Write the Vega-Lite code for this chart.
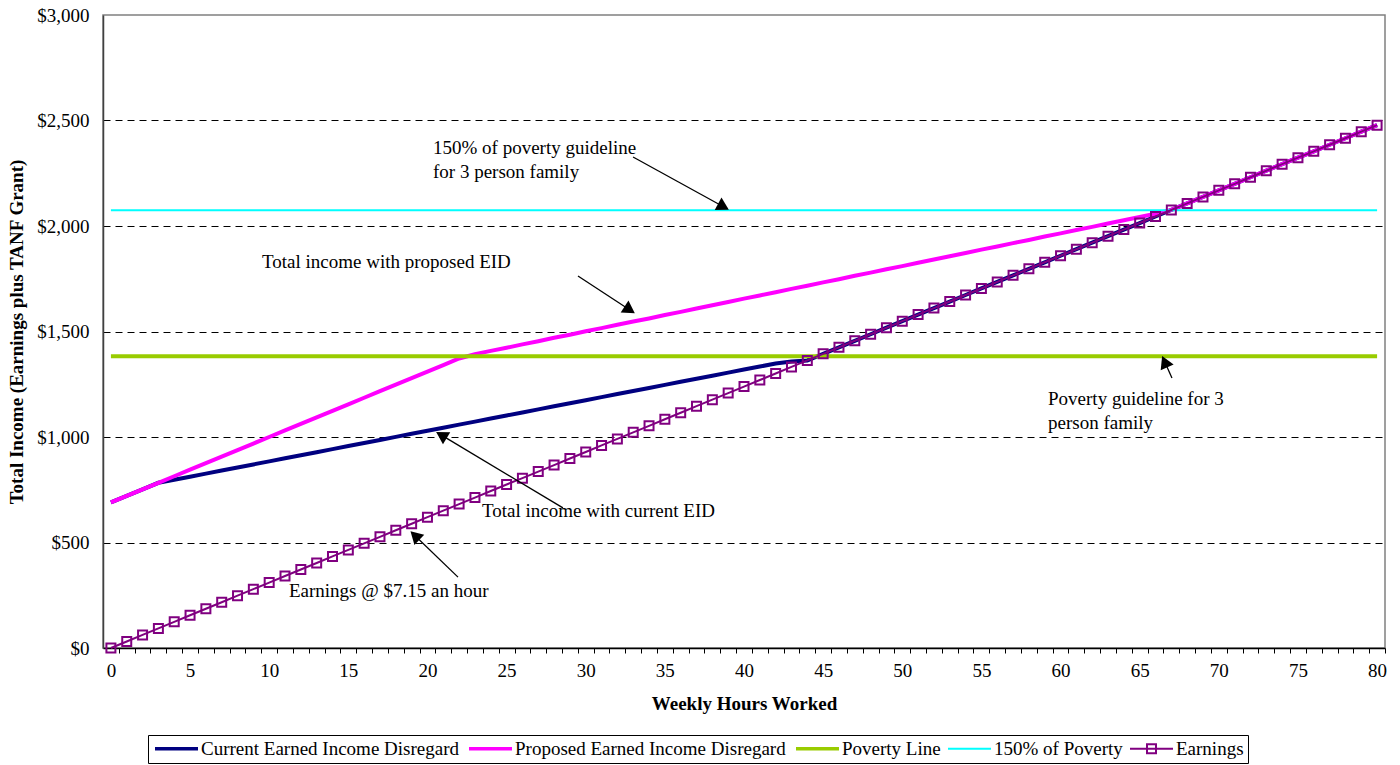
{
  "$schema": "https://vega.github.io/schema/vega-lite/v6.json",
  "width": 1282,
  "height": 633,
  "autosize": "none",
  "padding": {"left": 103, "top": 15, "right": 15, "bottom": 117},
  "background": "white",
  "config": {
    "font": "Liberation Serif",
    "view": {"stroke": "#808080", "strokeWidth": 1.5},
    "text": {"font": "Liberation Serif"}
  },
  "datasets": {
    "lines": [
      {"series":"Current","hours":0,"income":690},{"series":"Current","hours":1,"income":721},{"series":"Current","hours":2,"income":752},{"series":"Current","hours":3,"income":783},{"series":"Current","hours":4,"income":797.5},{"series":"Current","hours":5,"income":812},{"series":"Current","hours":6,"income":826.5},{"series":"Current","hours":7,"income":841},{"series":"Current","hours":8,"income":855.5},{"series":"Current","hours":9,"income":870},{"series":"Current","hours":10,"income":884.5},{"series":"Current","hours":11,"income":899},{"series":"Current","hours":12,"income":913.5},{"series":"Current","hours":13,"income":928},{"series":"Current","hours":14,"income":942.5},{"series":"Current","hours":15,"income":957},{"series":"Current","hours":16,"income":971.5},{"series":"Current","hours":17,"income":986},{"series":"Current","hours":18,"income":1000.5},{"series":"Current","hours":19,"income":1015},{"series":"Current","hours":20,"income":1029.5},{"series":"Current","hours":21,"income":1044},{"series":"Current","hours":22,"income":1058.5},{"series":"Current","hours":23,"income":1073},{"series":"Current","hours":24,"income":1087.5},{"series":"Current","hours":25,"income":1102},{"series":"Current","hours":26,"income":1116.5},{"series":"Current","hours":27,"income":1131},{"series":"Current","hours":28,"income":1145.5},{"series":"Current","hours":29,"income":1160},{"series":"Current","hours":30,"income":1174.5},{"series":"Current","hours":31,"income":1189},{"series":"Current","hours":32,"income":1203.5},{"series":"Current","hours":33,"income":1218},{"series":"Current","hours":34,"income":1232.5},{"series":"Current","hours":35,"income":1247},{"series":"Current","hours":36,"income":1261.5},{"series":"Current","hours":37,"income":1276},{"series":"Current","hours":38,"income":1290.5},{"series":"Current","hours":39,"income":1305},{"series":"Current","hours":40,"income":1319.5},{"series":"Current","hours":41,"income":1334},{"series":"Current","hours":42,"income":1348.5},{"series":"Current","hours":43,"income":1358},{"series":"Current","hours":44,"income":1363},{"series":"Current","hours":45,"income":1394},{"series":"Current","hours":46,"income":1425},{"series":"Current","hours":47,"income":1456},{"series":"Current","hours":48,"income":1487},{"series":"Current","hours":49,"income":1518},{"series":"Current","hours":50,"income":1549},{"series":"Current","hours":51,"income":1580},{"series":"Current","hours":52,"income":1611},{"series":"Current","hours":53,"income":1642},{"series":"Current","hours":54,"income":1673},{"series":"Current","hours":55,"income":1704},{"series":"Current","hours":56,"income":1735},{"series":"Current","hours":57,"income":1766},{"series":"Current","hours":58,"income":1797},{"series":"Current","hours":59,"income":1828},{"series":"Current","hours":60,"income":1859},{"series":"Current","hours":61,"income":1890},{"series":"Current","hours":62,"income":1921},{"series":"Current","hours":63,"income":1952},{"series":"Current","hours":64,"income":1983},{"series":"Current","hours":65,"income":2014},{"series":"Current","hours":66,"income":2045},{"series":"Current","hours":67,"income":2076},{"series":"Current","hours":68,"income":2107},{"series":"Current","hours":69,"income":2138},{"series":"Current","hours":70,"income":2169},{"series":"Current","hours":71,"income":2200},{"series":"Current","hours":72,"income":2231},{"series":"Current","hours":73,"income":2262},{"series":"Current","hours":74,"income":2293},{"series":"Current","hours":75,"income":2324},{"series":"Current","hours":76,"income":2354},{"series":"Current","hours":77,"income":2385},{"series":"Current","hours":78,"income":2416},{"series":"Current","hours":79,"income":2447},{"series":"Current","hours":80,"income":2478},
      {"series":"Proposed","hours":0,"income":690},{"series":"Proposed","hours":1,"income":721},{"series":"Proposed","hours":2,"income":752},{"series":"Proposed","hours":3,"income":783},{"series":"Proposed","hours":4,"income":814},{"series":"Proposed","hours":5,"income":845},{"series":"Proposed","hours":6,"income":876},{"series":"Proposed","hours":7,"income":907},{"series":"Proposed","hours":8,"income":938},{"series":"Proposed","hours":9,"income":969},{"series":"Proposed","hours":10,"income":1000},{"series":"Proposed","hours":11,"income":1031},{"series":"Proposed","hours":12,"income":1062},{"series":"Proposed","hours":13,"income":1093},{"series":"Proposed","hours":14,"income":1124},{"series":"Proposed","hours":15,"income":1155},{"series":"Proposed","hours":16,"income":1186},{"series":"Proposed","hours":17,"income":1217},{"series":"Proposed","hours":18,"income":1248},{"series":"Proposed","hours":19,"income":1279},{"series":"Proposed","hours":20,"income":1310},{"series":"Proposed","hours":21,"income":1341},{"series":"Proposed","hours":22,"income":1372},{"series":"Proposed","hours":23,"income":1392},{"series":"Proposed","hours":24,"income":1408},{"series":"Proposed","hours":25,"income":1423},{"series":"Proposed","hours":26,"income":1439},{"series":"Proposed","hours":27,"income":1454},{"series":"Proposed","hours":28,"income":1470},{"series":"Proposed","hours":29,"income":1485},{"series":"Proposed","hours":30,"income":1501},{"series":"Proposed","hours":31,"income":1516},{"series":"Proposed","hours":32,"income":1532},{"series":"Proposed","hours":33,"income":1547},{"series":"Proposed","hours":34,"income":1562},{"series":"Proposed","hours":35,"income":1578},{"series":"Proposed","hours":36,"income":1593},{"series":"Proposed","hours":37,"income":1609},{"series":"Proposed","hours":38,"income":1624},{"series":"Proposed","hours":39,"income":1640},{"series":"Proposed","hours":40,"income":1656},{"series":"Proposed","hours":41,"income":1671},{"series":"Proposed","hours":42,"income":1686},{"series":"Proposed","hours":43,"income":1702},{"series":"Proposed","hours":44,"income":1717},{"series":"Proposed","hours":45,"income":1733},{"series":"Proposed","hours":46,"income":1748},{"series":"Proposed","hours":47,"income":1764},{"series":"Proposed","hours":48,"income":1779},{"series":"Proposed","hours":49,"income":1795},{"series":"Proposed","hours":50,"income":1810},{"series":"Proposed","hours":51,"income":1826},{"series":"Proposed","hours":52,"income":1841},{"series":"Proposed","hours":53,"income":1857},{"series":"Proposed","hours":54,"income":1872},{"series":"Proposed","hours":55,"income":1888},{"series":"Proposed","hours":56,"income":1903},{"series":"Proposed","hours":57,"income":1919},{"series":"Proposed","hours":58,"income":1934},{"series":"Proposed","hours":59,"income":1950},{"series":"Proposed","hours":60,"income":1965},{"series":"Proposed","hours":61,"income":1981},{"series":"Proposed","hours":62,"income":1996},{"series":"Proposed","hours":63,"income":2012},{"series":"Proposed","hours":64,"income":2027},{"series":"Proposed","hours":65,"income":2043},{"series":"Proposed","hours":66,"income":2058},{"series":"Proposed","hours":67,"income":2076},{"series":"Proposed","hours":68,"income":2107},{"series":"Proposed","hours":69,"income":2138},{"series":"Proposed","hours":70,"income":2169},{"series":"Proposed","hours":71,"income":2200},{"series":"Proposed","hours":72,"income":2231},{"series":"Proposed","hours":73,"income":2262},{"series":"Proposed","hours":74,"income":2293},{"series":"Proposed","hours":75,"income":2324},{"series":"Proposed","hours":76,"income":2354},{"series":"Proposed","hours":77,"income":2385},{"series":"Proposed","hours":78,"income":2416},{"series":"Proposed","hours":79,"income":2447},{"series":"Proposed","hours":80,"income":2478},
      {"series":"Poverty","hours":0,"income":1383},{"series":"Poverty","hours":80,"income":1383},
      {"series":"Poverty150","hours":0,"income":2075},{"series":"Poverty150","hours":80,"income":2075},
      {"series":"Earnings","hours":0,"income":0},{"series":"Earnings","hours":1,"income":31},{"series":"Earnings","hours":2,"income":62},{"series":"Earnings","hours":3,"income":93},{"series":"Earnings","hours":4,"income":124},{"series":"Earnings","hours":5,"income":155},{"series":"Earnings","hours":6,"income":186},{"series":"Earnings","hours":7,"income":217},{"series":"Earnings","hours":8,"income":248},{"series":"Earnings","hours":9,"income":279},{"series":"Earnings","hours":10,"income":310},{"series":"Earnings","hours":11,"income":341},{"series":"Earnings","hours":12,"income":372},{"series":"Earnings","hours":13,"income":403},{"series":"Earnings","hours":14,"income":434},{"series":"Earnings","hours":15,"income":465},{"series":"Earnings","hours":16,"income":496},{"series":"Earnings","hours":17,"income":527},{"series":"Earnings","hours":18,"income":558},{"series":"Earnings","hours":19,"income":589},{"series":"Earnings","hours":20,"income":620},{"series":"Earnings","hours":21,"income":651},{"series":"Earnings","hours":22,"income":682},{"series":"Earnings","hours":23,"income":713},{"series":"Earnings","hours":24,"income":744},{"series":"Earnings","hours":25,"income":775},{"series":"Earnings","hours":26,"income":805},{"series":"Earnings","hours":27,"income":836},{"series":"Earnings","hours":28,"income":867},{"series":"Earnings","hours":29,"income":898},{"series":"Earnings","hours":30,"income":929},{"series":"Earnings","hours":31,"income":960},{"series":"Earnings","hours":32,"income":991},{"series":"Earnings","hours":33,"income":1022},{"series":"Earnings","hours":34,"income":1053},{"series":"Earnings","hours":35,"income":1084},{"series":"Earnings","hours":36,"income":1115},{"series":"Earnings","hours":37,"income":1146},{"series":"Earnings","hours":38,"income":1177},{"series":"Earnings","hours":39,"income":1208},{"series":"Earnings","hours":40,"income":1239},{"series":"Earnings","hours":41,"income":1270},{"series":"Earnings","hours":42,"income":1301},{"series":"Earnings","hours":43,"income":1332},{"series":"Earnings","hours":44,"income":1363},{"series":"Earnings","hours":45,"income":1394},{"series":"Earnings","hours":46,"income":1425},{"series":"Earnings","hours":47,"income":1456},{"series":"Earnings","hours":48,"income":1487},{"series":"Earnings","hours":49,"income":1518},{"series":"Earnings","hours":50,"income":1549},{"series":"Earnings","hours":51,"income":1580},{"series":"Earnings","hours":52,"income":1611},{"series":"Earnings","hours":53,"income":1642},{"series":"Earnings","hours":54,"income":1673},{"series":"Earnings","hours":55,"income":1704},{"series":"Earnings","hours":56,"income":1735},{"series":"Earnings","hours":57,"income":1766},{"series":"Earnings","hours":58,"income":1797},{"series":"Earnings","hours":59,"income":1828},{"series":"Earnings","hours":60,"income":1859},{"series":"Earnings","hours":61,"income":1890},{"series":"Earnings","hours":62,"income":1921},{"series":"Earnings","hours":63,"income":1952},{"series":"Earnings","hours":64,"income":1983},{"series":"Earnings","hours":65,"income":2014},{"series":"Earnings","hours":66,"income":2045},{"series":"Earnings","hours":67,"income":2076},{"series":"Earnings","hours":68,"income":2107},{"series":"Earnings","hours":69,"income":2138},{"series":"Earnings","hours":70,"income":2169},{"series":"Earnings","hours":71,"income":2200},{"series":"Earnings","hours":72,"income":2231},{"series":"Earnings","hours":73,"income":2262},{"series":"Earnings","hours":74,"income":2293},{"series":"Earnings","hours":75,"income":2324},{"series":"Earnings","hours":76,"income":2354},{"series":"Earnings","hours":77,"income":2385},{"series":"Earnings","hours":78,"income":2416},{"series":"Earnings","hours":79,"income":2447},{"series":"Earnings","hours":80,"income":2478}
    ],
    "notes": [
      {"text":"150% of poverty guideline","hours":20.35,"income":2370},
      {"text":"for 3 person family","hours":20.35,"income":2256},
      {"text":"Total income with proposed EID","hours":9.55,"income":1829},
      {"text":"Poverty guideline for 3","hours":59.21,"income":1180},
      {"text":"person family","hours":59.21,"income":1066},
      {"text":"Total income with current EID","hours":23.45,"income":649},
      {"text":"Earnings @ $7.15 an hour","hours":11.25,"income":270}
    ],
    "arrows": [
      {"id":1,"hours":32.99,"income":2327,"hours2":38.59,"income2":2096},
      {"id":2,"hours":29.51,"income":1763,"hours2":32.67,"income2":1608},
      {"id":3,"hours":67.04,"income":1280,"hours2":66.63,"income2":1348},
      {"id":4,"hours":28.56,"income":664,"hours2":20.99,"income2":1004},
      {"id":5,"hours":21.93,"income":336,"hours2":19.30,"income2":526}
    ]
  },
  "encoding": {
    "x": {
      "field": "hours", "type": "quantitative",
      "scale": {"domain": [-0.5, 80.5], "nice": false, "zero": false},
      "axis": {
        "title": "Weekly Hours Worked",
        "values": [0,1,2,3,4,5,6,7,8,9,10,11,12,13,14,15,16,17,18,19,20,21,22,23,24,25,26,27,28,29,30,31,32,33,34,35,36,37,38,39,40,41,42,43,44,45,46,47,48,49,50,51,52,53,54,55,56,57,58,59,60,61,62,63,64,65,66,67,68,69,70,71,72,73,74,75,76,77,78,79,80],
        "tickOffset": 7.91,
        "labelOffset": -7.91,
        "labelExpr": "datum.value % 5 === 0 ? datum.label : ''",
        "labelOverlap": false,
        "labelFlush": false,
        "labelBound": false,
        "grid": false,
        "tickSize": 5,
        "tickColor": "black",
        "domainColor": "black",
        "domainWidth": 1.5,
        "labelFontSize": 19,
        "labelColor": "black",
        "labelPadding": 8,
        "titleFontSize": 19,
        "titleFontWeight": "bold",
        "titleColor": "black",
        "titlePadding": 14
      }
    },
    "y": {
      "field": "income", "type": "quantitative",
      "scale": {"domain": [0, 3000], "nice": false},
      "axis": {
        "title": "Total Income (Earnings  plus TANF Grant)",
        "values": [0, 500, 1000, 1500, 2000, 2500, 3000],
        "format": "$,.0f",
        "ticks": false,
        "labelFontSize": 19,
        "labelColor": "black",
        "labelPadding": 14,
        "domainColor": "#404040",
        "domainWidth": 1.5,
        "gridDash": [7, 5],
        "gridColor": {"condition": {"test": "datum.value === 3000 || datum.value === 0", "value": "transparent"}, "value": "black"},
        "titleFontSize": 19,
        "titleFontWeight": "bold",
        "titleColor": "black",
        "titlePadding": 10
      }
    }
  },
  "layer": [
    {"data": {"name": "lines"}, "transform": [{"filter": "datum.series === 'Current'"}],
     "mark": {"type": "line", "color": "#000080", "strokeWidth": 4}},
    {"data": {"name": "lines"}, "transform": [{"filter": "datum.series === 'Proposed'"}],
     "mark": {"type": "line", "color": "#FF00FF", "strokeWidth": 4}},
    {"data": {"name": "lines"}, "transform": [{"filter": "datum.series === 'Poverty'"}],
     "mark": {"type": "line", "color": "#99CC00", "strokeWidth": 4}},
    {"data": {"name": "lines"}, "transform": [{"filter": "datum.series === 'Poverty150'"}],
     "mark": {"type": "line", "color": "#00FFFF", "strokeWidth": 2}},
    {"data": {"name": "lines"}, "transform": [{"filter": "datum.series === 'Earnings'"}],
     "mark": {"type": "line", "color": "#800080", "strokeWidth": 2}},
    {"data": {"name": "lines"}, "transform": [{"filter": "datum.series === 'Earnings'"}],
     "mark": {"type": "point", "shape": "square", "filled": false, "size": 81, "strokeWidth": 2, "color": "#800080", "opacity": 1}},
    {"data": {"name": "notes"},
     "mark": {"type": "text", "align": "left", "baseline": "middle", "fontSize": 19, "color": "black", "font": "Liberation Serif"},
     "encoding": {"text": {"field": "text"}}},
    {"data": {"name": "arrows"},
     "mark": {"type": "rule", "color": "black", "strokeWidth": 1.3},
     "encoding": {"x2": {"field": "hours2"}, "y2": {"field": "income2"}}},
    {"data": {"name": "arrows"}, "transform": [{"filter": "datum.id === 1"}],
     "mark": {"type": "point", "shape": "triangle", "filled": true, "size": 200, "color": "black", "opacity": 1, "angle": 118.5},
     "encoding": {"x": {"field": "hours2", "type": "quantitative"}, "y": {"field": "income2", "type": "quantitative"}}},
    {"data": {"name": "arrows"}, "transform": [{"filter": "datum.id === 2"}],
     "mark": {"type": "point", "shape": "triangle", "filled": true, "size": 200, "color": "black", "opacity": 1, "angle": 123.2},
     "encoding": {"x": {"field": "hours2", "type": "quantitative"}, "y": {"field": "income2", "type": "quantitative"}}},
    {"data": {"name": "arrows"}, "transform": [{"filter": "datum.id === 3"}],
     "mark": {"type": "point", "shape": "triangle", "filled": true, "size": 200, "color": "black", "opacity": 1, "angle": 335.8},
     "encoding": {"x": {"field": "hours2", "type": "quantitative"}, "y": {"field": "income2", "type": "quantitative"}}},
    {"data": {"name": "arrows"}, "transform": [{"filter": "datum.id === 4"}],
     "mark": {"type": "point", "shape": "triangle", "filled": true, "size": 200, "color": "black", "opacity": 1, "angle": 301},
     "encoding": {"x": {"field": "hours2", "type": "quantitative"}, "y": {"field": "income2", "type": "quantitative"}}},
    {"data": {"name": "arrows"}, "transform": [{"filter": "datum.id === 5"}],
     "mark": {"type": "point", "shape": "triangle", "filled": true, "size": 200, "color": "black", "opacity": 1, "angle": 313.7},
     "encoding": {"x": {"field": "hours2", "type": "quantitative"}, "y": {"field": "income2", "type": "quantitative"}}},
    {"data": {"values": []},
     "mark": {"type": "point", "filled": false, "strokeWidth": 3, "opacity": 1},
     "encoding": {
       "color": {"field": "series", "type": "nominal",
         "scale": {"domain": ["Current Earned Income Disregard", "Proposed Earned Income Disregard", "Poverty Line", "150% of Poverty", "Earnings"],
                   "range": ["#000080", "#FF00FF", "#99CC00", "#00FFFF", "#800080"]},
         "legend": {"title": null, "orient": "none", "legendX": 45, "legendY": 720, "direction": "horizontal",
                    "symbolSize": 100, "labelFontSize": 19, "labelFont": "Liberation Serif", "labelLimit": 0, "labelColor": "black", "labelOffset": 30, "columnPadding": 3,
                    "padding": 4, "strokeColor": "black", "fillColor": "white", "symbolOpacity": 1}},
       "shape": {"field": "series", "type": "nominal",
         "scale": {"domain": ["Current Earned Income Disregard", "Proposed Earned Income Disregard", "Poverty Line", "150% of Poverty", "Earnings"],
                   "range": ["M-1.3,0L7.3,0", "M-1.3,0L7.3,0", "M-1.3,0L7.3,0", "M-1.3,0L7.3,0", "M-1.3,0L7.3,0M2.1,-0.9L3.9,-0.9L3.9,0.9L2.1,0.9Z"]},
         "legend": {"title": null, "orient": "none", "legendX": 45, "legendY": 720, "direction": "horizontal",
                    "symbolSize": 100, "labelFontSize": 19, "labelFont": "Liberation Serif", "labelLimit": 0, "labelColor": "black", "labelOffset": 30, "columnPadding": 3,
                    "padding": 4, "strokeColor": "black", "fillColor": "white", "symbolOpacity": 1}},
       "strokeWidth": {"field": "series", "type": "nominal",
         "scale": {"type": "ordinal", "domain": ["Current Earned Income Disregard", "Proposed Earned Income Disregard", "Poverty Line", "150% of Poverty", "Earnings"],
                   "range": [3.5, 3.5, 3.5, 2, 2]},
         "legend": {"title": null, "orient": "none", "legendX": 45, "legendY": 720, "direction": "horizontal",
                    "symbolSize": 100, "labelFontSize": 19, "labelFont": "Liberation Serif", "labelLimit": 0, "labelColor": "black", "labelOffset": 30, "columnPadding": 3,
                    "padding": 4, "strokeColor": "black", "fillColor": "white", "symbolOpacity": 1}}
     }}
  ]
}
